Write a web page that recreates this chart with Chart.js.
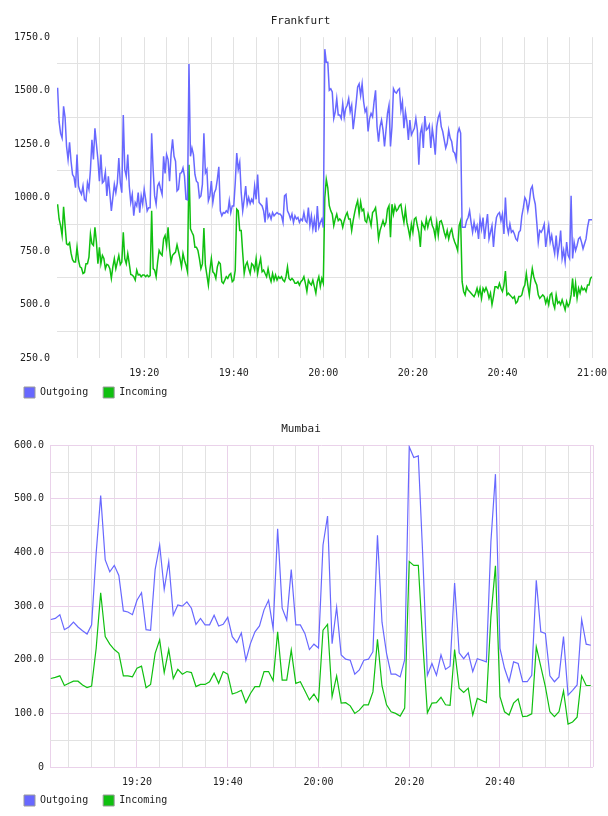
<!DOCTYPE html>
<html><head><meta charset="utf-8">
<script src="https://cdn.jsdelivr.net/npm/chart.js@4.4.1/dist/chart.umd.min.js"></script>
<style>
html,body{margin:0;padding:0;background:#fff;width:608px;height:816px;overflow:hidden;}
.box{position:absolute;left:0;width:608px;height:408px;}
#b1{top:0}#b2{top:408px}
canvas{display:block}
</style></head><body>
<div class="box" id="b1"><canvas id="c1" width="608" height="408"></canvas></div>
<div class="box" id="b2"><canvas id="c2" width="608" height="408"></canvas></div>
<script>
// ---------- data ----------
const seriesNames = ['Outgoing', 'Incoming'];
const chartTitles = ['Frankfurt', 'Mumbai'];

// Frankfurt: one sample every 20 s starting 19:00:40 (minutes after midnight)
const frankfurtStartMin = 1140 + 40 / 60;
const frankfurtStepMin = 1 / 3;
const frankfurtOutgoing = [
1514,1355,1300,1278,1427,1375,1239,1178,1258,1170,
1108,1096,1046,1201,1054,1030,1015,1054,992,985,
1069,1039,1131,1270,1178,1324,1250,1178,1077,1201,
1069,1077,1119,1008,1100,1020,938,1000,1062,1023,
1069,1185,1069,1023,1386,1131,1100,1201,1054,977,
1015,915,977,961,1023,930,1008,969,1039,992,
938,953,953,1301,1131,1008,969,1054,1069,1040,
1015,1193,1113,1201,1178,1077,1201,1273,1193,1170,
1031,1039,1113,1116,1139,1100,992,989,1625,
1193,1232,1201,1108,1077,1069,1000,1008,1062,1301,
1116,1131,985,1008,1077,977,1023,1039,1085,1144,
938,915,930,927,938,930,985,930,961,961,
1069,1208,1131,1165,1023,938,992,1054,969,1000,
972,992,977,1054,992,1108,977,969,961,938,
884,1000,907,923,900,930,915,923,930,923,
923,915,884,1008,1015,938,923,900,923,884,
915,900,907,884,900,892,930,892,884,953,
869,915,853,900,838,961,861,884,900,860,
1694,1633,1633,1502,1509,1494,1370,1401,1463,1386,1386,1370,1440,
1375,1417,1432,1463,1401,1432,1320,1378,1443,1517,
1532,1478,1532,1448,1401,1417,1309,1370,1394,1378,
1448,1502,1332,1262,1332,1363,1316,1239,1316,1394,
1432,1239,1332,1509,1494,1489,1502,1509,1409,1448,
1324,1401,1355,1270,1363,1293,1309,1324,1370,1316,
1154,1301,1332,1232,1381,1316,1324,1340,1232,1324,
1270,1201,1332,1375,1394,1332,1309,1270,1232,1255,
1316,1278,1262,1216,1208,1178,1301,
1324,1301,
861,861,861,892,907,938,884,838,884,846,
869,807,900,853,907,807,869,923,807,838,
869,769,853,907,923,930,892,923,830,1000,
869,834,876,838,846,830,807,799,838,846,
915,953,1000,985,938,977,1039,1054,1000,969,
884,792,846,838,853,876,769,823,869,792,
823,776,738,823,730,776,846,715,753,699,
792,730,715,1008,715,792,753,776,807,815,
792,761,784,807,861,896,896,896
];
const frankfurtIncoming = [
969,900,869,823,957,869,784,779,789,740,
710,699,699,768,707,676,671,645,650,691,
691,722,830,784,776,861,792,691,768,691,
730,715,668,688,684,668,622,676,715,668,
699,730,687,699,838,715,691,738,691,641,
638,630,614,661,638,641,630,638,638,630,
638,630,635,938,668,661,630,699,753,738,
730,807,823,776,861,761,699,730,738,745,
779,748,715,676,738,707,684,653,1154,
854,838,823,768,768,753,715,668,690,858,
684,638,591,661,715,653,645,622,676,699,
691,607,599,614,630,622,638,645,607,614,
661,946,938,846,846,741,645,684,699,668,
645,691,684,661,715,645,684,715,653,661,
645,630,668,630,607,645,614,638,614,630,
622,630,614,607,630,676,622,614,622,614,
599,599,607,591,607,614,630,599,561,614,
599,591,614,584,553,607,630,584,622,600,
1000,1085,
1046,962,938,923,869,900,923,892,900,892,
861,892,915,930,900,900,846,892,930,962,
985,923,980,938,946,892,884,923,900,869,
930,938,953,892,807,846,869,892,869,884,
946,962,815,969,923,962,938,946,962,969,
923,884,946,884,853,815,876,838,900,907,
869,838,769,884,869,853,900,861,892,907,
869,853,815,884,823,887,892,869,838,815,
846,807,838,853,815,792,776,753,
869,892,607,
561,545,583,568,561,553,545,537,
553,576,545,576,529,576,561,579,561,
529,553,499,537,583,583,576,599,576,561,
591,656,545,553,545,537,529,537,506,
514,537,537,545,576,591,645,591,545,
614,668,630,607,591,545,529,537,545,
537,506,529,499,545,553,506,483,545,
506,514,499,522,499,475,514,491,506,
545,622,537,599,529,576,553,583,568,
576,561,591,591,622,630
];

// Mumbai: one sample per minute starting 19:01
const mumbaiStartMin = 1141;
const mumbaiStepMin = 1;
const mumbaiOutgoing = [
275,277,284,256,261,270,261,254,248,265,
398,506,386,364,376,357,291,289,284,311,
325,256,255,368,414,331,383,283,302,300,
308,296,266,277,265,265,283,263,266,279,
243,232,250,199,230,252,263,293,311,258,
444,296,274,368,265,265,249,219,229,222,
414,468,230,298,209,201,199,173,181,199,
201,215,432,270,212,173,173,168,200,597,
577,580,390,171,193,171,209,182,188,343,
213,202,213,178,202,199,196,420,546,221,
184,159,196,193,159,159,171,348,252,249,
170,159,168,243,134,143,153,275,229,227
];
const mumbaiIncoming = [
165,167,170,152,156,160,160,153,148,151,
221,325,243,229,219,212,170,170,168,184,
188,148,154,212,237,176,219,165,182,173,
178,176,150,154,154,159,175,156,178,173,
136,139,143,120,137,150,150,178,178,161,
252,162,162,218,156,159,142,125,136,122,
255,266,131,170,119,120,114,100,106,116,
116,140,238,151,116,103,100,95,110,383,
376,376,230,101,119,120,130,116,115,219,
147,139,147,97,128,124,120,280,375,131,
103,97,119,127,94,95,99,224,187,150,
103,94,103,142,80,84,93,170,152,152
];

// axis ranges / ticks (minutes after midnight, values)
const frankfurtXRange = [1140.53, 1260];
const frankfurtYRange = [250, 1750];
const mumbaiXRange = [1140.83, 1260.5];
const mumbaiYRange = [0, 600];
const xGridStepMin = 5;
const xLabelStepMin = 20;

// ---------- styling ----------
const MONO = "'DejaVu Sans Mono', 'Liberation Mono', monospace";
const BLUE = '#6868ff';
const GREEN = '#10c010';
const GRAY = '#e2e2e2';
const PINK = '#ead2ea';
const TEXT = '#222';

function fmtTime(v) {
  const h = Math.floor(v / 60), m = Math.round(v % 60);
  return String(h).padStart(2, '0') + ':' + String(m).padStart(2, '0');
}
function toPoints(start, step, arr) {
  return arr.map((v, i) => ({x: start + i * step, y: v}));
}
function xTicks(lo, hi, extraEdges) {
  const out = [];
  if (extraEdges) out.push(lo);
  for (let t = Math.ceil(lo / xGridStepMin) * xGridStepMin; t <= hi + 1e-9; t += xGridStepMin) out.push(t);
  if (extraEdges && out[out.length - 1] < hi) out.push(hi);
  return out;
}
function yTicks(lo, hi, step) {
  const out = [];
  for (let v = lo; v <= hi + 1e-9; v += step) out.push(v);
  return out;
}
const legendLabels = chart => chart.data.datasets.map((ds, i) => ({
  text: ds.label, fillStyle: ds.borderColor, strokeStyle: '#9a9a9a', lineWidth: 1,
  hidden: false, datasetIndex: i, fontColor: TEXT
}));
// let the bottom tick labels spill below the (deliberately short) x-axis box and past the right edge
const unclipX = {id: 'unclipX', afterLayout(chart) { const s = chart.scales.x; s.bottom = s.top + 40; }};

function makeChart(canvasId, title, xr, yr, out, inc, start, step, opt) {
  const isFrameEdge = v => opt.frame && (Math.abs(v - xr[0]) < 1e-6 || Math.abs(v - xr[1]) < 1e-6);
  return new Chart(document.getElementById(canvasId), {
    type: 'line',
    plugins: [unclipX],
    data: {
      datasets: [
        {label: seriesNames[0], data: toPoints(start, step, out), borderColor: BLUE, backgroundColor: BLUE,
         borderWidth: opt.lw, pointRadius: 0, tension: 0, fill: false},
        {label: seriesNames[1], data: toPoints(start, step, inc), borderColor: GREEN, backgroundColor: GREEN,
         borderWidth: opt.lw, pointRadius: 0, tension: 0, fill: false}
      ]
    },
    options: {
      responsive: false, animation: false, events: [],
      layout: {padding: {left: 9, right: opt.padRight, top: 0, bottom: 0}},
      plugins: {
        title: {display: true, text: title, color: TEXT, font: {family: MONO, size: 11, weight: 'normal'},
                padding: {top: 15, bottom: 9}},
        legend: {position: 'bottom', align: 'start',
                 labels: {boxWidth: 11, boxHeight: 11, padding: 15, color: TEXT,
                          font: {family: MONO, size: 10}, generateLabels: legendLabels}},
        tooltip: {enabled: false}
      },
      scales: {
        x: {
          type: 'linear', min: xr[0], max: xr[1],
          afterBuildTicks: s => { s.ticks = xTicks(xr[0], xr[1], opt.frame).map(v => ({value: v})); },
          afterFit: s => { s.height = opt.xHeight; s.paddingRight = 0; },
          ticks: {autoSkip: false, maxRotation: 0, minRotation: 0, padding: opt.xPad, color: TEXT,
                  font: {family: MONO, size: 10},
                  callback: v => (isFrameEdge(v) || Math.abs(v % xLabelStepMin) > 1e-6 || v > opt.lastLabel) ? '' : fmtTime(v)},
          grid: {drawTicks: false, lineWidth: 1,
                 color: c => {
                   const v = c.tick ? c.tick.value : 0;
                   if (isFrameEdge(v)) return PINK;
                   if (opt.pinkMajor && Math.abs(v % xLabelStepMin) < 1e-6) return PINK;
                   return GRAY;
                 }},
          border: {display: false}
        },
        y: {
          min: yr[0], max: yr[1],
          afterBuildTicks: s => { s.ticks = yTicks(yr[0], yr[1], opt.yStep).map(v => ({value: v})); },
          afterFit: s => { s.width = opt.yWidth; },
          ticks: {padding: opt.yPad, color: TEXT, font: {family: MONO, size: 10},
                  callback: v => (v % opt.yLabelStep !== 0) ? '' : (v === 0 ? '0' : v.toFixed(1))},
          grid: {drawTicks: false, lineWidth: 1,
                 color: c => {
                   const v = c.tick ? c.tick.value : 0;
                   const major = v % opt.yLabelStep === 0;
                   if (opt.pinkMajor) return major ? PINK : GRAY;
                   return major ? 'rgba(0,0,0,0)' : GRAY;
                 }},
          border: {display: false}
        }
      }
    }
  });
}

makeChart('c1', chartTitles[0], frankfurtXRange, frankfurtYRange, frankfurtOutgoing, frankfurtIncoming,
  frankfurtStartMin, frankfurtStepMin,
  {lw: 1.5, padRight: 16, xHeight: 14, xPad: 9, yWidth: 48, yPad: 7, yStep: 125, yLabelStep: 250,
   pinkMajor: false, frame: false, lastLabel: 1260});
makeChart('c2', chartTitles[1], mumbaiXRange, mumbaiYRange, mumbaiOutgoing, mumbaiIncoming,
  mumbaiStartMin, mumbaiStepMin,
  {lw: 1.2, padRight: 15, xHeight: 13, xPad: 9, yWidth: 41, yPad: 6, yStep: 50, yLabelStep: 100,
   pinkMajor: true, frame: true, lastLabel: 1240});
</script>
</body></html>
